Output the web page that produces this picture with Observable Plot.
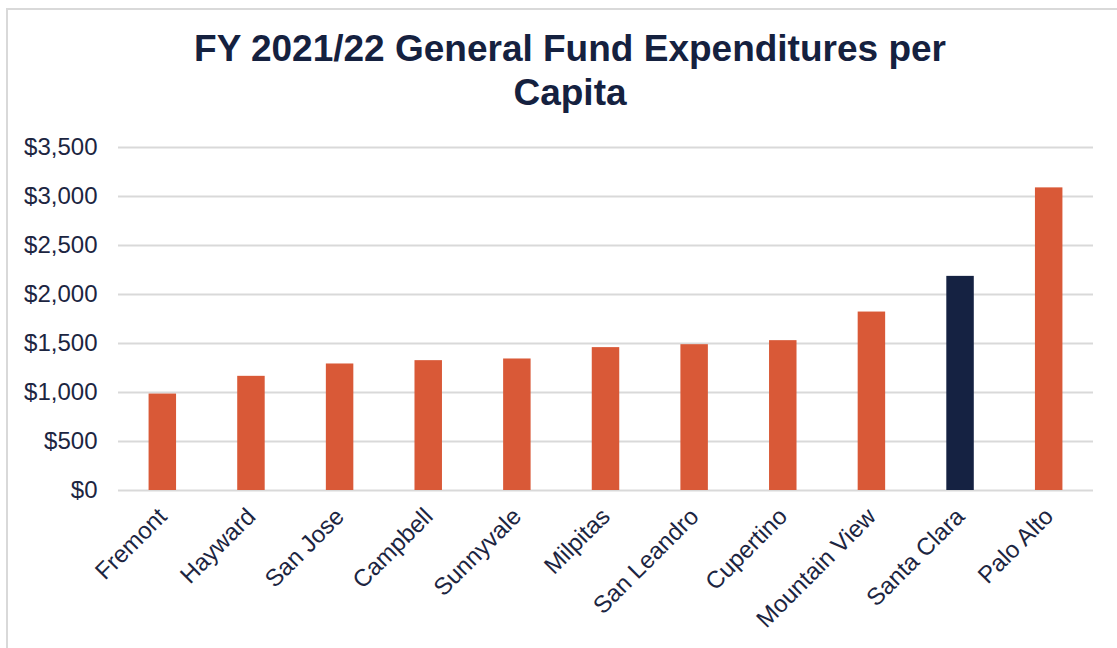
<!DOCTYPE html>
<html>
<head>
<meta charset="utf-8">
<script src="https://cdn.jsdelivr.net/npm/d3@7"></script>
<script src="https://cdn.jsdelivr.net/npm/@observablehq/plot@0.6"></script>
<style>
  html, body { margin: 0; padding: 0; background: #fff; overflow: hidden; }
  body { width: 1117px; height: 648px; position: relative; font-family: "Liberation Sans", Arial, sans-serif; }
  #frame { position: absolute; left: 6px; top: 8px; width: 1200px; height: 700px; border: 2px solid #d9d9d9; box-sizing: border-box; }
  #title { position: absolute; left: 0; top: 27px; width: 1140px; text-align: center; font-size: 37px; line-height: 44px; font-weight: bold; color: #15213f; }
  #chart { position: absolute; left: 0; top: 120px; }
</style>
</head>
<body>
<div id="frame"></div>
<div id="title">FY 2021/22 General Fund Expenditures per<br>Capita</div>
<div id="chart"></div>
<script>
const cities = ["Fremont", "Hayward", "San Jose", "Campbell", "Sunnyvale", "Milpitas", "San Leandro", "Cupertino", "Mountain View", "Santa Clara", "Palo Alto"];
const values = [984, 1165, 1291, 1325, 1342, 1458, 1488, 1529, 1821, 2185, 3088];
const highlight = "Santa Clara";
const yTicks = [0, 500, 1000, 1500, 2000, 2500, 3000, 3500];

const data = cities.map((c, i) => ({city: c, value: values[i]}));
const fmt = d => "$" + d3.format(",")(d);

const chart = Plot.plot({
  width: 1117,
  height: 520,
  marginTop: 27,
  marginBottom: 150,
  marginLeft: 118,
  marginRight: 24,
  style: {fontFamily: "'Liberation Sans', Arial, sans-serif", color: "#1c2541", background: "transparent"},
  x: {domain: cities, paddingInner: 0.69, paddingOuter: 0.345, round: false, label: null},
  y: {domain: [0, 3500], ticks: yTicks, label: null, tickFormat: fmt},
  marks: [
    Plot.ruleY(yTicks, {stroke: "#d9d9d9", strokeWidth: 2}),
    Plot.barY(data, {x: "city", y: "value", fill: d => d.city === highlight ? "#152242" : "#d95937"}),
    Plot.axisY({ticks: yTicks, tickSize: 0, tickPadding: 21, fontSize: 24, tickFormat: fmt, label: null}),
    Plot.axisX({tickSize: 0, tickRotate: -45, tickPadding: 22, fontSize: 24, label: null})
  ]
});
document.getElementById("chart").appendChild(chart);
</script>
</body>
</html>
